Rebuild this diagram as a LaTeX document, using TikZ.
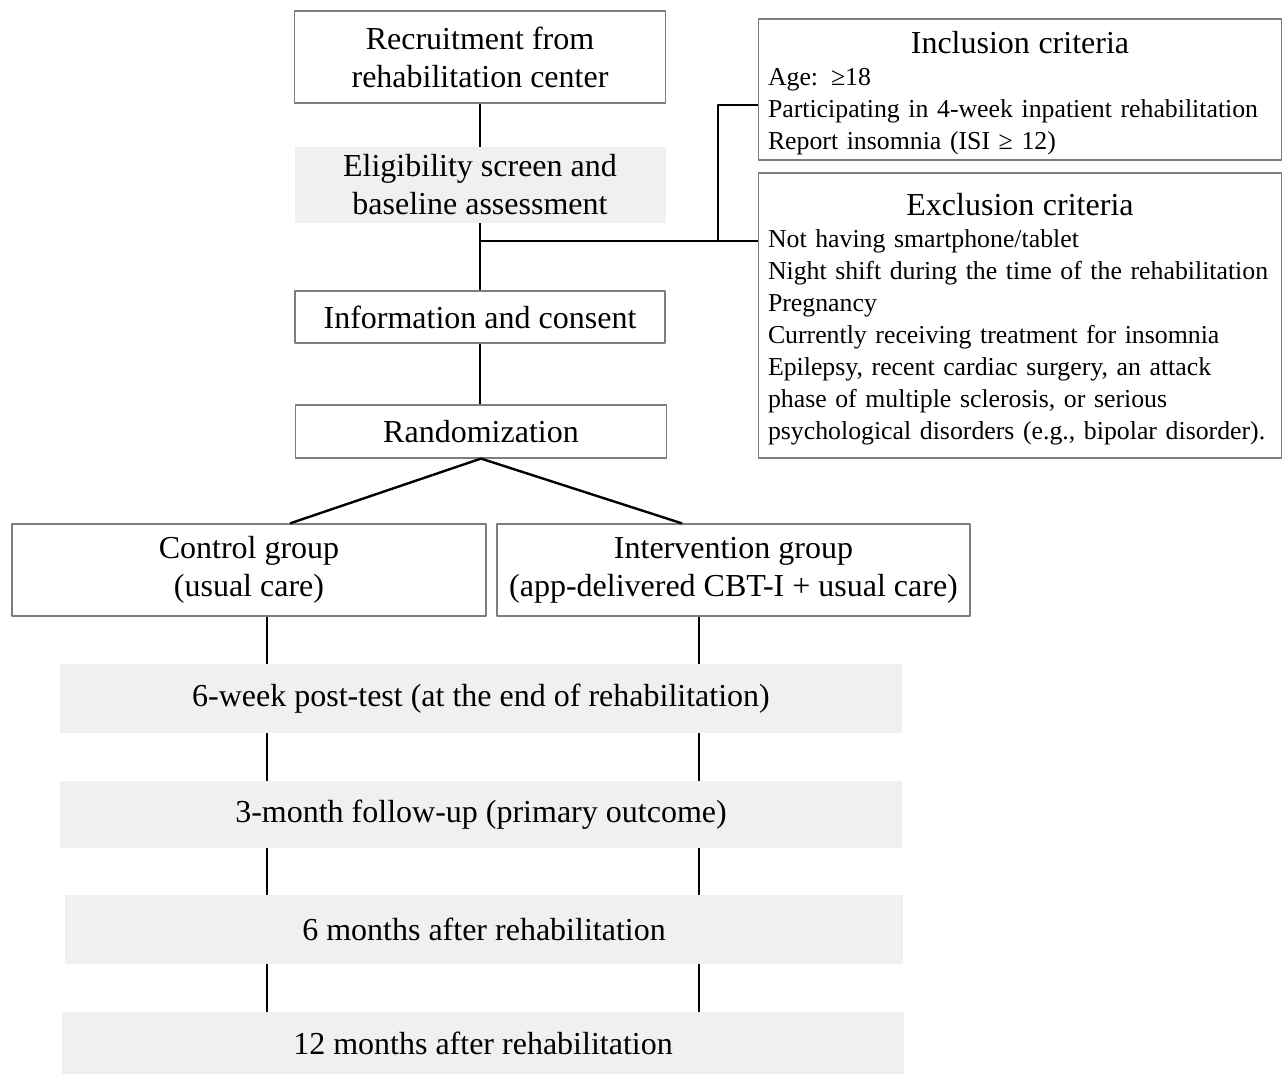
\documentclass[tikz,border=0pt]{standalone}
\usepackage{fontspec}
\setmainfont{Liberation Serif}
\definecolor{bandgray}{RGB}{240,240,240}
\definecolor{edgegray}{RGB}{125,125,125}
\begin{document}
\begin{tikzpicture}[x=0.5pt,y=-0.5pt,line join=round]
	\tikzset{box/.style={draw=edgegray,line width=0.6pt,inner sep=0pt,align=center,font=\fontsize{16pt}{19pt}\selectfont},
		band/.style={fill=bandgray,inner sep=0pt,align=center,font=\fontsize{16pt}{19pt}\selectfont},
		crit/.style={draw=edgegray,line width=0.6pt,inner xsep=4.75pt,inner ysep=0pt,text width=252pt,align=left,font=\fontsize{12.9pt}{16pt}\selectfont},
		link/.style={line width=1.2pt}}
	\useasboundingbox (0,0) rectangle (1282,1074);
	% enrolment
	\node[box,minimum width=185.5pt,minimum height=46pt] (recruit) at (480,57) {Recruitment from\\rehabilitation center};
	\node[band,minimum width=185.5pt,minimum height=38pt] (elig) at (480,185) {Eligibility screen and\\baseline assessment};
	\node[box,minimum width=185pt,minimum height=26pt] (info) at (480,317) {Information and consent};
	\node[box,minimum width=185.5pt,minimum height=26.5pt] (rand) at (481,431.5) {Randomization};
	% criteria
	\node[crit,minimum height=70.5pt] (incl) at (1020,89.5) {\rule{0pt}{15pt}\makebox[252pt]{\fontsize{16pt}{19pt}\selectfont Inclusion criteria}\\
		Age: ≥18\\Participating in 4-week inpatient rehabilitation\\Report insomnia (ISI ≥ 12)};
	\node[crit,minimum height=142.5pt] (excl) at (1020,315.5) {\rule{0pt}{15pt}\makebox[252pt]{\fontsize{16pt}{19pt}\selectfont Exclusion criteria}\\
		Not having smartphone/tablet\\Night shift during the time of the rehabilitation\\Pregnancy\\Currently receiving treatment for insomnia\\Epilepsy, recent cardiac surgery, an attack\\phase of multiple sclerosis, or serious\\psychological disorders (e.g., bipolar disorder).};
	% groups
	\node[box,minimum width=237pt,minimum height=46pt] (ctrl) at (249,570) {Control group\\(usual care)};
	\node[box,minimum width=236.5pt,minimum height=46pt] (interv) at (733.5,570) {Intervention group\\(app-delivered CBT-I + usual care)};
	% follow-up
	\node[band,minimum width=421pt,minimum height=34.5pt] (post) at (481,698.5) {6-week post-test (at the end of rehabilitation)};
	\node[band,minimum width=421pt,minimum height=33.5pt] (fu3) at (481,814.5) {3-month follow-up (primary outcome)};
	\node[band,minimum width=419pt,minimum height=34.5pt] (m6) at (484,929.5) {6 months after rehabilitation};
	\node[band,minimum width=421pt,minimum height=31pt] (m12) at (483,1043) {12 months after rehabilitation};
	% connectors
	\coordinate (split) at (480,241);
	\coordinate (knee) at (718,241);
	\coordinate (lcol) at (267,0);
	\coordinate (rcol) at (699,0);
	\draw[link] (recruit.south) -- (elig.north);
	\draw[link] (elig.south) -- (info.north);
	\draw[link] (info.south) -- (info.south |- rand.north);
	\draw[link] (split) -- (split -| excl.west);
	\draw[link] (knee) |- ([yshift=-7.75pt]incl.west);
	\draw[link] (rand.south) -- ([xshift=20.5pt]ctrl.north);
	\draw[link] (rand.south) -- ([xshift=-25.75pt]interv.north);
	\foreach \a/\b in {ctrl/post,post/fu3,fu3/m6,m6/m12}
	{\draw[link] (\a.south -| lcol) -- (\b.north -| lcol);
	 \draw[link] (\a.south -| rcol) -- (\b.north -| rcol);}
\end{tikzpicture}
\end{document}
